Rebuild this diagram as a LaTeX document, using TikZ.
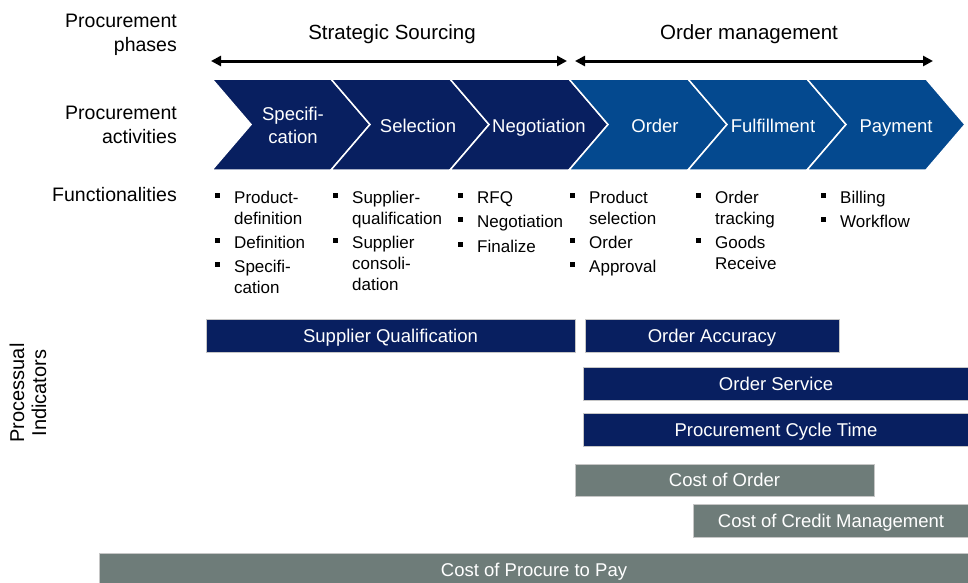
\documentclass[tikz,border=0pt]{standalone}
\usepackage{fontspec}
\setmainfont{Liberation Sans}
\usepackage{tikz}
\usetikzlibrary{arrows.meta}

\definecolor{navy}{RGB}{8,31,96}
\definecolor{midblue}{RGB}{4,73,143}
\definecolor{slate}{RGB}{110,124,121}

\tikzset{
    sidelabel/.style={anchor=east, align=right, inner sep=0pt, font=\fontsize{19.5}{24}\selectfont},
    phaselabel/.style={inner sep=0pt, font=\fontsize{20.5}{24}\selectfont},
    phasearrow/.style={{Triangle[length=10pt,width=10pt]}-{Triangle[length=10pt,width=10pt]}, line width=3pt},
    chevron/.style={draw=white, line width=1.5pt},
    actlabel/.style={text=white, align=center, inner sep=0pt, font=\fontsize{18.5}{23}\selectfont},
    actsingle/.style={actlabel, text height=15pt, text depth=1pt},
    func/.style={anchor=base west, inner sep=0pt, font=\fontsize{17}{21}\selectfont},
    kpi/.style={draw=gray!45, line width=0.8pt, text=white, inner sep=0pt, minimum height=33pt, text height=15pt, text depth=2pt, font=\fontsize{18.5}{22}\selectfont},
}

% bullet item: name, x, first baseline, text
\newcommand{\fitem}[4]{%
    \fill (#2-19,#3-10) rectangle (#2-14,#3-5);
    \node[func] (#1) at (#2,#3) {\begin{tabular}[t]{@{}l@{}}#4\end{tabular}};}

\begin{document}
\begin{tikzpicture}[x=1pt, y=-1pt]
        \useasboundingbox (0,0) rectangle (968,582);

        % row labels
        \node[sidelabel] (phases) at (177,35) {Procurement\\phases};
        \node[sidelabel] (activities) at (177,125) {Procurement\\activities};
        \node[sidelabel] (functions) at (177,195) {Functionalities};
        \node[rotate=90, align=center, inner sep=0pt, font=\fontsize{20}{22}\selectfont] (indicators) at (28,393) {Processual\\Indicators};

        % phases
        \node[phaselabel] (sourcing) at (392,34) {Strategic Sourcing};
        \node[phaselabel] (ordermgmt) at (749,34) {Order management};
        \coordinate (s1) at (211,61);
        \coordinate (s2) at (567,61);
        \coordinate (o1) at (575,61);
        \coordinate (o2) at (933,61);
        \draw[phasearrow] (s1) -- (s2);
        \draw[phasearrow] (o1) -- (o2);

        % activities
        \filldraw[chevron, fill=navy] (212,79) -- ++(119,0) -- ++(39,45.5) -- ++(-39,45.5) -- ++(-119,0) -- ++(39,-45.5) -- cycle;
        \filldraw[chevron, fill=navy] (331,79) -- ++(119,0) -- ++(39,45.5) -- ++(-39,45.5) -- ++(-119,0) -- ++(39,-45.5) -- cycle;
        \filldraw[chevron, fill=navy] (450,79) -- ++(119,0) -- ++(39,45.5) -- ++(-39,45.5) -- ++(-119,0) -- ++(39,-45.5) -- cycle;
        \filldraw[chevron, fill=midblue] (569,79) -- ++(119,0) -- ++(39,45.5) -- ++(-39,45.5) -- ++(-119,0) -- ++(39,-45.5) -- cycle;
        \filldraw[chevron, fill=midblue] (688,79) -- ++(119,0) -- ++(39,45.5) -- ++(-39,45.5) -- ++(-119,0) -- ++(39,-45.5) -- cycle;
        \filldraw[chevron, fill=midblue] (807,79) -- ++(119,0) -- ++(39,45.5) -- ++(-39,45.5) -- ++(-119,0) -- ++(39,-45.5) -- cycle;

        \node[actlabel] (spec) at (293,125) {Specifi-\\cation};
        \node[actsingle] (sel) at (418,125) {Selection};
        \node[actsingle] (neg) at (539,125) {Negotiation};
        \node[actsingle] (ord) at (655,125) {Order};
        \node[actsingle] (ful) at (773,125) {Fulfillment};
        \node[actsingle] (pay) at (896,125) {Payment};

        % functionalities
        \fitem{f11}{234}{203}{Product-\\definition}
        \fitem{f12}{234}{248}{Definition}
        \fitem{f13}{234}{272}{Specifi-\\cation}
        \fitem{f21}{352}{203}{Supplier-\\qualification}
        \fitem{f22}{352}{248}{Supplier\\consoli-\\dation}
        \fitem{f31}{477}{203}{RFQ}
        \fitem{f32}{477}{227}{Negotiation}
        \fitem{f33}{477}{252}{Finalize}
        \fitem{f41}{589}{203}{Product\\selection}
        \fitem{f42}{589}{248}{Order}
        \fitem{f43}{589}{272}{Approval}
        \fitem{f51}{715}{203}{Order\\tracking}
        \fitem{f52}{715}{248}{Goods\\Receive}
        \fitem{f61}{840}{203}{Billing}
        \fitem{f62}{840}{227}{Workflow}

        % indicators
        \node[kpi, fill=navy, minimum width=369pt] (supqual) at (390.5,335.5) {Supplier Qualification};
        \node[kpi, fill=navy, minimum width=254pt] (accuracy) at (712,335.5) {Order Accuracy};
        \node[kpi, fill=navy, minimum width=386pt] (service) at (776,383.5) {Order Service};
        \node[kpi, fill=navy, minimum width=386pt] (cycle) at (776,430) {Procurement Cycle Time};
        \node[kpi, fill=slate, minimum width=299pt, minimum height=32pt] (costorder) at (724.5,480) {Cost of Order};
        \node[kpi, fill=slate, minimum width=276pt] (costcredit) at (831,520.5) {Cost of Credit Management};
        \node[kpi, fill=slate, minimum width=870pt] (costp2p) at (534,569.5) {Cost of Procure to Pay};
    \end{tikzpicture}
\end{document}
